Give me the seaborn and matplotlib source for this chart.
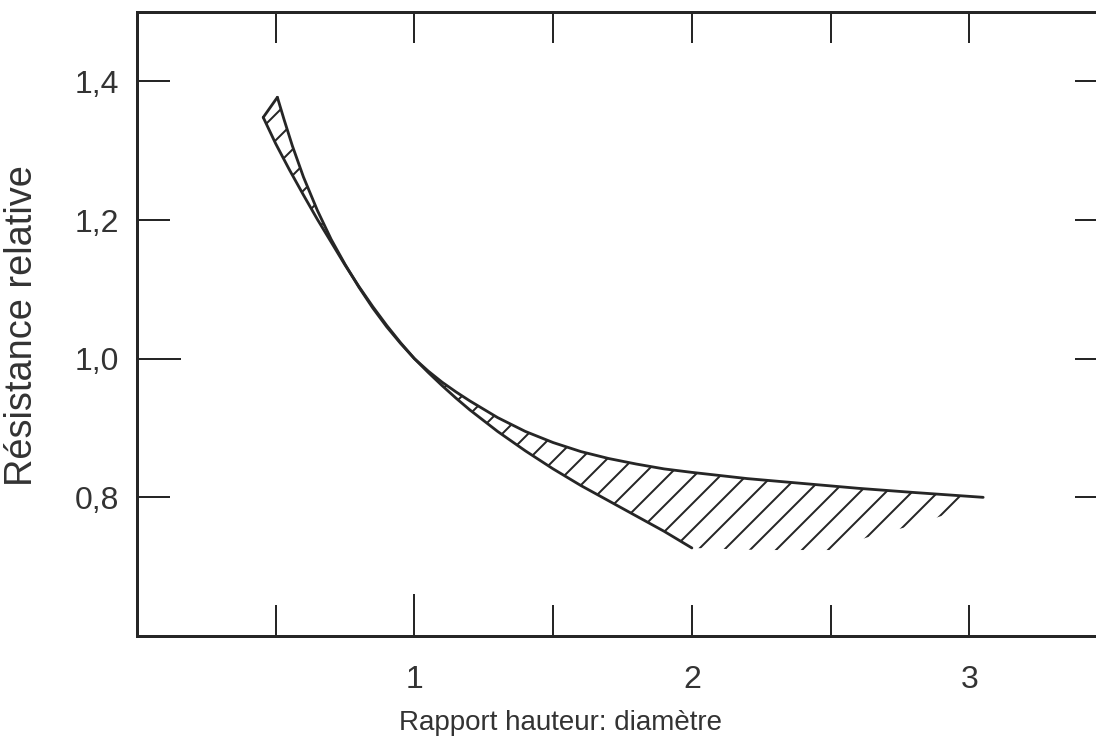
import numpy as np
import matplotlib as mpl
mpl.use('Agg')
from matplotlib import pyplot as plt
import seaborn as sns

# steep curve (upper at left, lower after x=1)
steep_x = [0.506, 0.53, 0.56, 0.6, 0.65, 0.7, 0.75, 0.8, 0.85, 0.9, 0.95, 1.0,
           1.05, 1.1, 1.15, 1.2, 1.3, 1.4, 1.5, 1.6, 1.7, 1.8, 1.9, 2.0]
steep_y = [1.377, 1.345, 1.307, 1.262, 1.214, 1.172, 1.136, 1.103, 1.073, 1.046, 1.022, 1.0,
           0.980, 0.961, 0.943, 0.926, 0.895, 0.867, 0.841, 0.817, 0.795, 0.773, 0.751, 0.727]

# flat curve (lower at left, upper after x=1)
flat_x = [0.455, 0.5, 0.55, 0.6, 0.65, 0.7, 0.75, 0.8, 0.85, 0.9, 0.95, 1.0,
          1.05, 1.1, 1.15, 1.2, 1.3, 1.4, 1.5, 1.6, 1.7, 1.8, 1.9, 2.0,
          2.2, 2.4, 2.6, 2.8, 3.05]
flat_y = [1.348, 1.31, 1.272, 1.236, 1.201, 1.168, 1.135, 1.104, 1.075, 1.048, 1.023, 1.0,
          0.982, 0.966, 0.952, 0.939, 0.915, 0.895, 0.879, 0.866, 0.856, 0.848, 0.841, 0.836,
          0.827, 0.82, 0.813, 0.807, 0.80]

# lower limit of the hatching after x=2 (no drawn line there)
hatch_x = [2.0, 2.25, 2.5, 2.63, 2.8, 2.96, 3.0]
hatch_y = [0.727, 0.724, 0.724, 0.742, 0.76, 0.781, 0.79]

xticks = [0.5, 1, 1.5, 2, 2.5, 3]
xticklabels = ['', '1', '', '2', '', '3']
yticks = [0.8, 1.0, 1.2, 1.4]
yticklabels = ['0,8', '1,0', '1,2', '1,4']

# low dpi so the hatch spacing matches the printed one
DPI = 78


def px(n):
    # pixel measure -> points
    return n * 72.0 / DPI


sns.set_style('ticks')
plt.rcParams['font.family'] = ['Liberation Sans', 'DejaVu Sans']
plt.rcParams['hatch.linewidth'] = px(2)

ink = '#262626'
txt = '#333333'

fig = plt.figure(figsize=(1096 / DPI, 744 / DPI), dpi=DPI)
ax = fig.add_axes([137 / 1096, 108 / 744, 971 / 1096, 624 / 744])

# hatched band between the two curves
poly_x = steep_x + hatch_x[1:] + flat_x[::-1]
poly_y = steep_y + hatch_y[1:] + flat_y[::-1]
ax.fill(poly_x, poly_y, facecolor='none', edgecolor=ink, hatch='/', lw=0)

sns.lineplot(x=steep_x, y=steep_y, sort=False, estimator=None, color=ink, lw=px(2.8), ax=ax)
sns.lineplot(x=flat_x, y=flat_y, sort=False, estimator=None, color=ink, lw=px(2.8), ax=ax)
ax.plot([flat_x[0], steep_x[0]], [flat_y[0], steep_y[0]], color=ink, lw=px(2.8))

ax.set_xlim(0, 3.5)
ax.set_ylim(0.6, 1.5)

for s in ax.spines.values():
    s.set_linewidth(px(3))
    s.set_color(ink)

ax.set_xticks(xticks)
ax.set_xticklabels(xticklabels)
ax.set_yticks(yticks)
ax.set_yticklabels(yticklabels)
ax.tick_params(direction='in', top=True, right=True, width=px(2), color=ink,
               labelsize=px(32), labelcolor=txt)
ax.tick_params(axis='x', length=px(31), pad=px(29))
ax.tick_params(axis='y', length=px(33), pad=px(18))

# longer ticks at x=1 (bottom) and y=1.0 (left)
ax.xaxis.get_major_ticks()[1].tick1line.set_markersize(px(42))
ax.yaxis.get_major_ticks()[1].tick1line.set_markersize(px(44))

ax.set_xlabel('Rapport hauteur: diamètre', fontsize=px(27.8), color=txt)
ax.xaxis.set_label_coords(0.436, -0.118)
ax.set_ylabel('Résistance relative', fontsize=px(38), color=txt)
ax.yaxis.set_label_coords(-0.100, 0.497)

fig.savefig('out.png', dpi=DPI, facecolor='white')
